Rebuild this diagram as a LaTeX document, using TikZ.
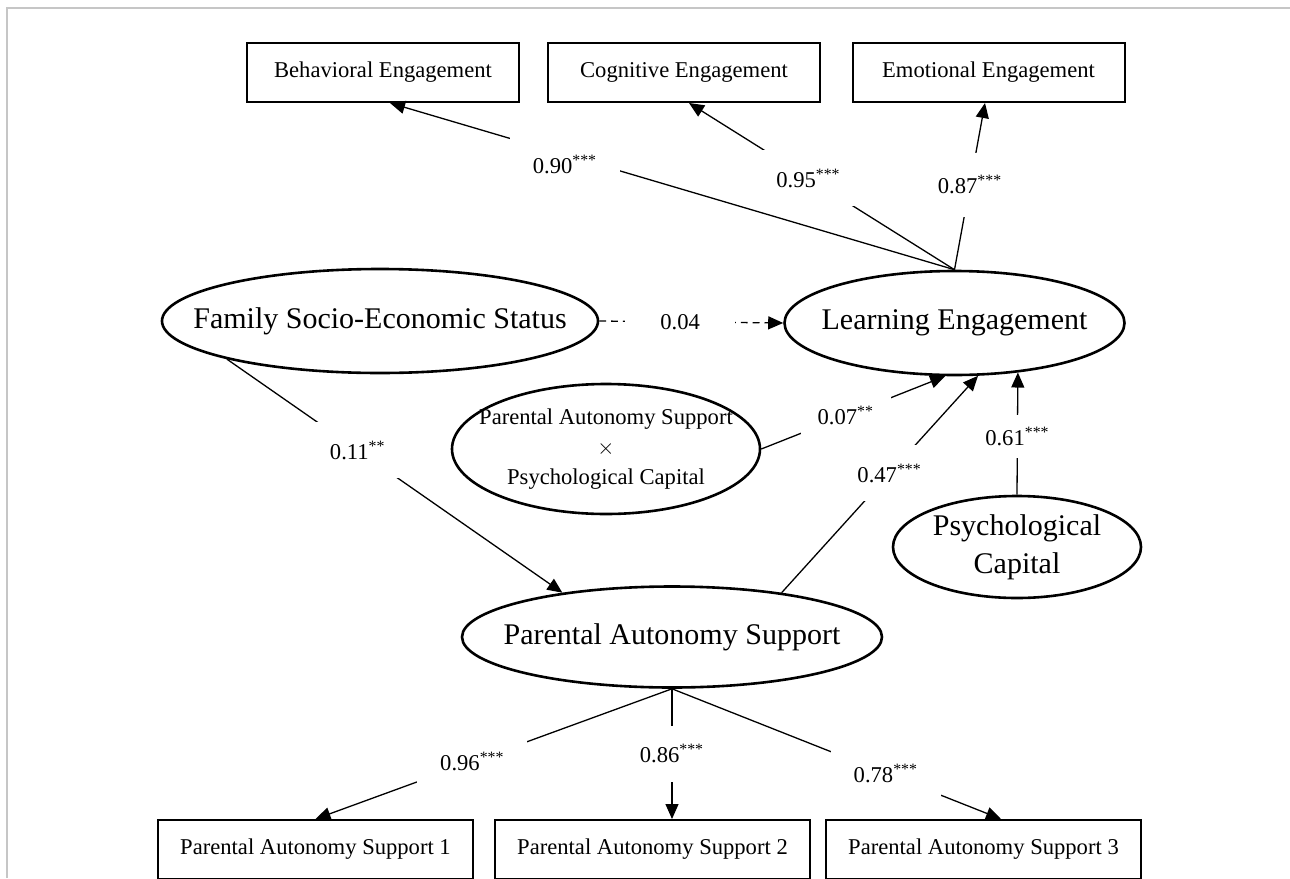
\documentclass[tikz,border=0pt]{standalone}
\usepackage{fontspec}
\setmainfont{Liberation Serif}
\usetikzlibrary{shapes.geometric,arrows.meta}

\begin{document}
\begin{tikzpicture}[x=0.5pt,y=-0.5pt,
		box/.style={draw,line width=1pt,inner sep=0pt,minimum width=136pt,minimum height=29.5pt,font=\fontsize{11.3}{13}\selectfont},
		ell/.style={draw,ellipse,line width=1.3pt,inner xsep=-60pt,inner ysep=0pt,align=center,font=\fontsize{15}{19}\selectfont},
		conn/.style={line width=0.65pt,-{Triangle[length=7.5pt,width=6.5pt]}},
		lbl/.style={fill=white,inner sep=0pt,minimum width=55pt,minimum height=28pt,font=\fontsize{11.3}{13}\selectfont}]
		\useasboundingbox (0,0) rectangle (1290,878);
		% frame
		\draw[gray!45,line width=0.7pt] (7,878)--(7,8)--(1290,8);
		% indicators
		\node[box] (BE) at (383,72.5) {Behavioral Engagement};
		\node[box] (CE) at (684,72.5) {Cognitive Engagement};
		\node[box] (EE) at (988.5,72.5) {Emotional Engagement};
		\node[box,minimum width=157.5pt] (PAS1) at (315.5,849.5) {Parental Autonomy Support 1};
		\node[box,minimum width=157.5pt] (PAS2) at (652.5,849.5) {Parental Autonomy Support 2};
		\node[box,minimum width=157.5pt] (PAS3) at (983.5,849.5) {Parental Autonomy Support 3};
		% latent variables
		\node[ell,minimum width=170pt,minimum height=52pt] (LE) at (954.5,323) {Learning Engagement};
		\node[ell,minimum width=218pt,minimum height=52pt] (FSES) at (380,321) {Family Socio-Economic Status};
		\node[ell,minimum width=154pt,minimum height=65pt,font=\fontsize{11.3}{15}\selectfont] (INT) at (606,449) {Parental Autonomy Support\\$\times$\\Psychological Capital};
		\node[ell,minimum width=124pt,minimum height=51pt] (PC) at (1017,547) {Psychological\\Capital};
		\node[ell,minimum width=210pt,minimum height=50.5pt] (PAS) at (672,637) {Parental Autonomy Support};
		% loadings
		\draw[conn] (LE.north) -- node[lbl,pos=.69,yshift=-5pt,minimum height=31pt] {0.90\textsuperscript{***}} ([xshift=3.5pt]BE.south);
		\draw[conn] (LE.north) -- node[lbl,pos=.55] {0.95\textsuperscript{***}} ([xshift=2.5pt]CE.south);
		\draw[conn] (LE.north) -- node[lbl,pos=.51,minimum height=32pt] {0.87\textsuperscript{***}} ([xshift=-1.75pt]EE.south);
		\draw[conn] (PAS.south) -- node[lbl,pos=.56] {0.96\textsuperscript{***}} (PAS1.north);
		\draw[conn] (PAS.south) -- node[lbl,pos=.5] {0.86\textsuperscript{***}} (PAS.south |- PAS2.north);
		\draw[conn] (PAS.south) -- node[lbl,pos=.65] {0.78\textsuperscript{***}} ([xshift=8.75pt]PAS3.north);
		% structural paths
		\draw[conn,dash pattern=on 3.4pt off 2.5pt] (FSES.east) -- node[lbl,pos=.44] {0.04} (LE.west);
		\draw[conn] (FSES.194) -- node[lbl,pos=.39] {0.11\textsuperscript{**}} (PAS.158);
		\draw[conn] (INT.east) -- node[lbl,pos=.46,minimum width=45pt] {0.07\textsuperscript{**}} (LE.260);
		\draw[conn] (PAS.22) -- node[lbl,pos=.55] {0.47\textsuperscript{***}} (LE.294);
		\draw[conn] (PC.north) -- node[lbl,pos=.48,minimum height=21.5pt] {0.61\textsuperscript{***}} (LE.322);
	\end{tikzpicture}
\end{document}
